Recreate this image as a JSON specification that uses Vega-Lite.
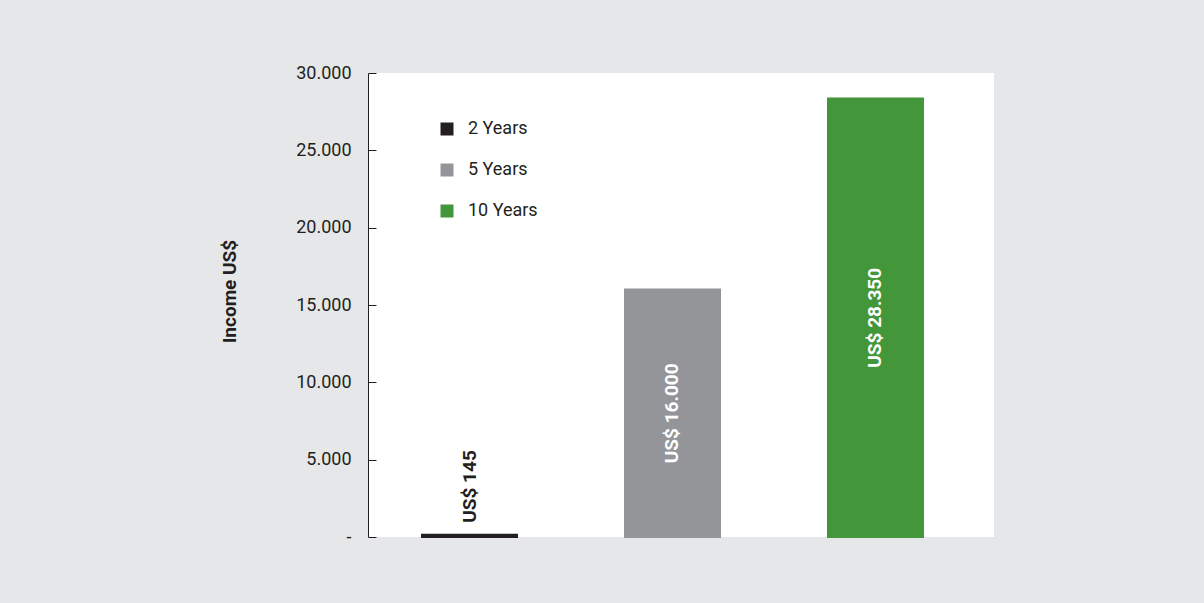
{
  "$schema": "https://vega.github.io/schema/vega-lite/v6.json",
  "autosize": {"type": "none"},
  "width": 626,
  "height": 464,
  "padding": {"left": 368, "top": 73, "right": 210, "bottom": 66},
  "background": "#E6E7E8",
  "view": {"fill": "#FFFFFF", "stroke": null},
  "data": {
    "values": [
      {"period": "2 Years", "income": 145, "label": "US$ 145"},
      {"period": "5 Years", "income": 16000, "label": "US$ 16.000"},
      {"period": "10 Years", "income": 28350, "label": "US$ 28.350"}
    ]
  },
  "encoding": {
    "x": {
      "field": "period",
      "type": "nominal",
      "sort": ["2 Years", "5 Years", "10 Years"],
      "scale": {"paddingInner": 0.532, "paddingOuter": 0.308, "align": 0.432},
      "axis": null
    }
  },
  "layer": [
    {
      "mark": {"type": "bar", "strokeWidth": 2},
      "encoding": {
        "y": {
          "field": "income",
          "type": "quantitative",
          "scale": {"domain": [0, 30000], "nice": false},
          "axis": {
            "values": [0, 5000, 10000, 15000, 20000, 25000, 30000],
            "labelExpr": "datum.value == 0 ? '-' : replace(format(datum.value, ',.0f'), ',', '.')",
            "grid": false,
            "domainColor": "#231F20",
            "domainWidth": 1,
            "tickColor": "#231F20",
            "tickSize": -8,
            "tickWidth": 1,
            "labelPadding": 25,
            "labelFont": "Roboto",
            "labelFontSize": 18,
            "labelColor": "#231F20",
            "title": "Income US$",
            "titleFont": "Roboto",
            "titleFontSize": 19,
            "titleFontWeight": "bold",
            "titleColor": "#231F20",
            "titlePadding": 56,
            "titleY": 218
          }
        },
        "color": {
          "field": "period",
          "type": "nominal",
          "scale": {"domain": ["2 Years", "5 Years", "10 Years"], "range": ["#231F20", "#939598", "#43963A"]},
          "legend": {
            "title": null,
            "orient": "none",
            "legendX": 70,
            "legendY": 47,
            "padding": 0,
            "symbolType": "square",
            "symbolSize": 169,
            "symbolStrokeWidth": 0,
            "rowPadding": 23,
            "labelOffset": 12,
            "labelFont": "Roboto",
            "labelFontSize": 18,
            "labelColor": "#231F20"
          }
        },
        "stroke": {
          "field": "period",
          "type": "nominal",
          "scale": {"domain": ["2 Years", "5 Years", "10 Years"], "range": ["#231F20", "#939598", "#43963A"]},
          "legend": null
        }
      }
    },
    {
      "transform": [
        {"filter": "datum.income > 1000"},
        {"calculate": "datum.income / 2", "as": "mid"}
      ],
      "mark": {
        "type": "text",
        "angle": 270,
        "align": "center",
        "baseline": "middle",
        "font": "Roboto",
        "fontSize": 19,
        "fontWeight": "bold",
        "color": "#FFFFFF"
      },
      "encoding": {
        "y": {"field": "mid", "type": "quantitative"},
        "text": {"field": "label"}
      }
    },
    {
      "transform": [{"filter": "datum.income <= 1000"}],
      "mark": {
        "type": "text",
        "angle": 270,
        "align": "left",
        "baseline": "middle",
        "dx": 12,
        "font": "Roboto",
        "fontSize": 19,
        "fontWeight": "bold",
        "color": "#231F20"
      },
      "encoding": {
        "y": {"field": "income", "type": "quantitative"},
        "text": {"field": "label"}
      }
    }
  ]
}
